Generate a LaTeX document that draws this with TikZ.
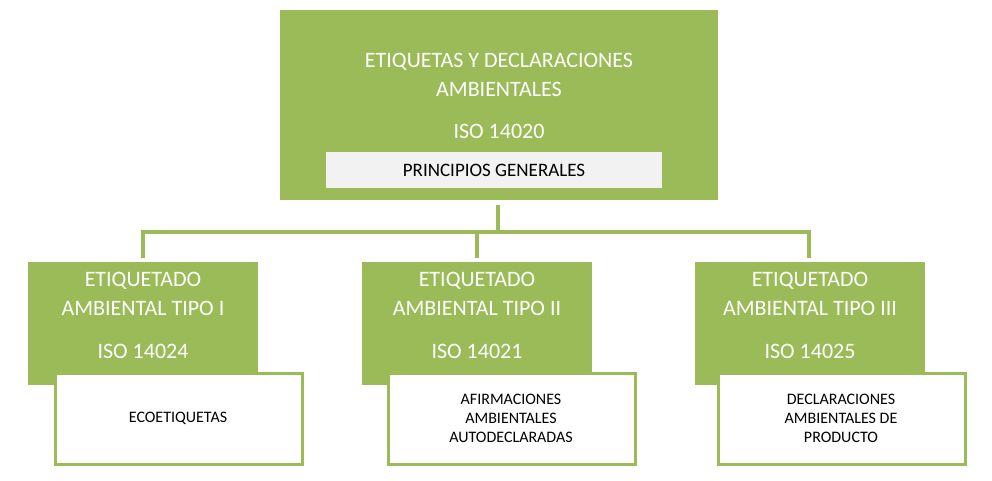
\documentclass[tikz,border=0pt]{standalone}
\usepackage{fontspec}
\setmainfont{Carlito}
\definecolor{grn}{HTML}{9BBB59}
\begin{document}
\begin{tikzpicture}[x=1pt,y=-1pt,
  gbox/.style={fill=grn,draw=none,minimum width=#1,inner sep=0pt},
  wbox/.style={fill=white,draw=grn,line width=3pt,inner sep=0pt,align=center,font=\fontsize{16}{19}\selectfont},
  gtext/.style={text=white,align=center,font=\fontsize{22}{29}\selectfont},
  conn/.style={draw=grn,line width=4pt}]
\useasboundingbox (0,0) rectangle (992,480);
% top
\fill[grn] (280,10) rectangle (718,200);
\node[gtext] (t) at (499,75) {ETIQUETAS Y DECLARACIONES\\AMBIENTALES};
\node[gtext] (tiso) at (499,131) {ISO 14020};
\node[fill=white!95!black,minimum width=336pt,minimum height=36pt,inner sep=0pt,font=\fontsize{19}{22}\selectfont] (pg) at (494,170) {PRINCIPIOS GENERALES};
\coordinate (trunkA) at (498,205);
\coordinate (trunkB) at (498,232);
\coordinate (hl) at (143,232);
\coordinate (hr) at (809,232);
\coordinate (d1) at (143,258);
\coordinate (d2) at (477,258);
\coordinate (d3) at (809,258);
\coordinate (m2) at (477,232);
\draw[conn] (trunkA) -- (trunkB);
\draw[conn] (d1) -- (hl) -- (hr) -- (d3);
\draw[conn] (m2) -- (d2);
% children
\foreach \gx/\wx/\tA/\tB/\iso/\w/\n in {28/55/ETIQUETADO/AMBIENTAL TIPO I/ISO 14024/ECOETIQUETAS/a,
  362/388/ETIQUETADO/AMBIENTAL TIPO II/ISO 14021/{AFIRMACIONES\\AMBIENTALES\\AUTODECLARADAS}/b,
  695/718/ETIQUETADO/AMBIENTAL TIPO III/ISO 14025/{DECLARACIONES\\AMBIENTALES DE\\PRODUCTO}/c}{
  \fill[grn] (\gx,262) rectangle (\gx+230,385);
  \node[gtext] (g\n) at (\gx+115,294) {\tA\\\tB};
  \node[gtext] (i\n) at (\gx+115,351) {\iso};
  \draw[draw=grn,line width=3pt,fill=white] (\wx,373) rectangle (\wx+247,464);
  \node[wbox,draw=none,fill=none] (w\n) at (\wx+123,418) {\w};
}
\end{tikzpicture}
\end{document}
